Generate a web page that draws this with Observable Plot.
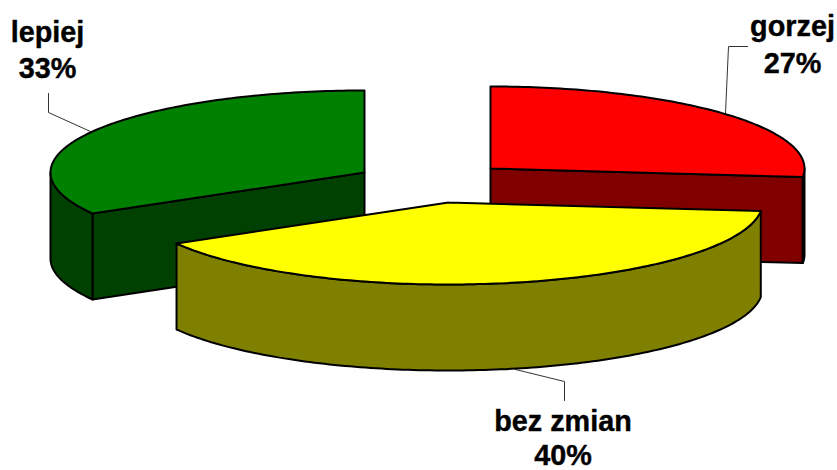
<!DOCTYPE html>
<html>
<head>
<meta charset="utf-8">
<style>html,body{margin:0;padding:0;background:#fff}svg{display:block}</style>
<script src="https://cdn.jsdelivr.net/npm/d3@7"></script>
<script src="https://cdn.jsdelivr.net/npm/@observablehq/plot@0.6"></script>
</head>
<body>
<script>
const categories = ["gorzej", "bez zmian", "lepiej"];
const shares = [26.67, 40, 33.33];
const topColors = ["#ff0000", "#ffff00", "#008000"];
const wallColors = ["#800000", "#808000", "#004000"];

// Exploded slice apex positions, in the chart's pixel-based x/y scales
const apexX = [490, 448, 364];
const apexY = [168, 202, 172];
const rx = 314, ry = 82, depth = 86;

// Label text positions and leader lines
const labelX = [792, 562.5, 47];
const labelY1 = [35, 430, 41];
const labelY2 = [72, 464, 77];
const leaders = [
  [[725, 113], [728, 46], [747, 46]],
  [[515, 369], [564, 381], [564, 400]],
  [[90, 131], [48, 112], [48, 93]]
];

let acc = 0;
const slices = categories.map((name, i) => {
  const t0 = acc / 100 * 360;
  acc += shares[i];
  return {name, i, t0, t1: acc / 100 * 360, cx: apexX[i], cy: apexY[i]};
});
const rad = d => d * Math.PI / 180;
const pt = (s, t, dz = 0) => ({x: s.cx + rx * Math.sin(rad(t)), y: s.cy - ry * Math.cos(rad(t)) + dz});
const arc = (s, a, b, dz = 0) => {
  const n = Math.max(2, Math.ceil(Math.abs(b - a)));
  return d3.range(n + 1).map(k => pt(s, a + (b - a) * k / n, dz));
};
const closed = p => [...p, p[0]];
const poly = (points, fill) => Plot.line(closed(points), {
  x: "x", y: "y", fill, stroke: "#000", strokeWidth: 2, strokeLinejoin: "round", curve: "linear"
});

function sliceMarks(s) {
  const marks = [];
  const top = topColors[s.i], wall = wallColors[s.i];
  const apex = {x: s.cx, y: s.cy}, apexLow = {x: s.cx, y: s.cy + depth};
  // radial side faces that look toward the viewer
  if (s.i === 0) {
    const e = pt(s, s.t1), eLow = pt(s, s.t1, depth);
    marks.push(poly([apex, e, eLow, apexLow], wall));
  }
  if (s.i === 2) {
    const e = pt(s, s.t0), eLow = pt(s, s.t0, depth);
    marks.push(poly([apex, e, eLow, apexLow], wall));
  }
  // outer wall (front half of the rim only)
  const a = Math.max(s.t0, 90), b = Math.min(s.t1, 270);
  if (b > a) marks.push(poly([...arc(s, a, b), ...arc(s, b, a, depth)], wall));
  // top face
  marks.push(poly([apex, ...arc(s, s.t0, s.t1)], top));
  return marks;
}

const order = [2, 0, 1];
const labelRows = slices.flatMap(s => [
  {x: labelX[s.i], y: labelY1[s.i], text: s.name},
  {x: labelX[s.i], y: labelY2[s.i], text: Math.round(shares[s.i]) + "%"}
]);

const chart = Plot.plot({
  width: 837,
  height: 470,
  margin: 0,
  x: {domain: [0, 837], range: [0, 837], axis: null},
  y: {domain: [0, 470], range: [0, 470], axis: null},
  style: {background: "#fff"},
  marks: [
    ...leaders.map(l => Plot.line(l, {x: d => d[0], y: d => d[1], stroke: "#333", strokeWidth: 1, curve: "linear"})),
    ...order.flatMap(i => sliceMarks(slices[i])),
    Plot.text(labelRows, {
      x: "x", y: "y", text: "text", textAnchor: "middle", lineAnchor: "bottom",
      fontFamily: "Liberation Sans, Arial, sans-serif", fontWeight: "bold", fontSize: 28.8, fill: "#000",
      stroke: "#000", strokeWidth: 0.4
    })
  ]
});
document.body.appendChild(chart);
</script>
</body>
</html>
